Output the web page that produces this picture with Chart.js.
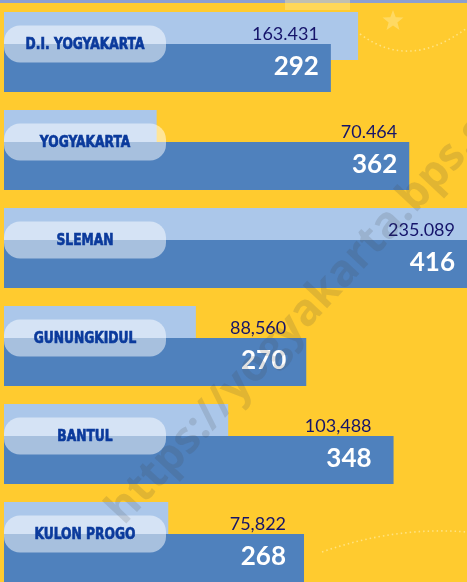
<!DOCTYPE html>
<html>
<head>
<meta charset="utf-8">
<script src="https://cdn.jsdelivr.net/npm/chart.js@4/dist/chart.umd.min.js"></script>
<style>
html,body{margin:0;padding:0;background:#FFCB2F;}
#wrap{width:467px;height:582px;position:relative;}
</style>
</head>
<body>
<div id="wrap"><canvas id="c"></canvas></div>
<script>
// ---- data ----
const categories = ['D.I. YOGYAKARTA', 'YOGYAKARTA', 'SLEMAN', 'GUNUNGKIDUL', 'BANTUL', 'KULON PROGO'];
const upperValues = [163.431, 70.464, 235.089, 88.560, 103.488, 75.822];
const upperLabels = ['163.431', '70.464', '235.089', '88,560', '103,488', '75,822'];
const lowerValues = [292, 362, 416, 270, 348, 268];
const lowerLabels = ['292', '362', '416', '270', '348', '268'];
const upperAxisMax = 213.7;
const lowerAxisMax = 413.6;

const BG = '#FFCB2F';
const LIGHT = '#ABC7EA';
const DARK = '#4F81BD';
const labelInset = [12, 12, 12, 20, 22, 18];

const decor = {
  id: 'decor',
  beforeDraw(chart) {
    const ctx = chart.ctx;
    ctx.save();
    ctx.fillStyle = BG;
    ctx.fillRect(0, 0, chart.width, chart.height);
    ctx.fillStyle = '#8C9FD0';
    ctx.fillRect(0, 0, chart.width, 3);
    // faint star
    ctx.fillStyle = 'rgba(255,230,140,0.55)';
    const cx = 393, cy = 21, R = 11, r = 4.6;
    ctx.beginPath();
    for (let k = 0; k < 10; k++) {
      const a = -Math.PI / 2 + k * Math.PI / 5;
      const rr = k % 2 ? r : R;
      ctx.lineTo(cx + rr * Math.cos(a), cy + rr * Math.sin(a));
    }
    ctx.closePath();
    ctx.fill();
    // dotted curves
    ctx.strokeStyle = 'rgba(255,232,150,0.8)';
    ctx.lineWidth = 1.6;
    ctx.setLineDash([1.5, 3]);
    ctx.beginPath();
    ctx.moveTo(360, 34);
    ctx.bezierCurveTo(395, 60, 430, 55, 467, 28);
    ctx.stroke();
    ctx.beginPath();
    ctx.moveTo(322, 552);
    ctx.bezierCurveTo(370, 535, 420, 528, 467, 532);
    ctx.stroke();
    ctx.setLineDash([]);
    // faint basket top
    ctx.fillStyle = 'rgba(255,230,140,0.45)';
    ctx.fillRect(285, 0, 65, 10);
    ctx.restore();
  },
  beforeDatasetDraw(chart, args) {
    // lower (dark) bars are drawn after the upper ones, see afterDatasetsDraw
    if (args.index === 1) return false;
  },
  afterDatasetsDraw(chart) {
    const ctx = chart.ctx;
    chart.getDatasetMeta(1).controller.draw();
    const low = chart.getDatasetMeta(1).data;
    const right = chart.chartArea.right;
    ctx.save();
    categories.forEach((name, i) => {
      const d = low[i];
      const top = d.y - d.height / 2;
      // pill
      const px = 4, pw = 162, ph = 37, pr = 16;
      const py = top - ph / 2;
      ctx.fillStyle = 'rgba(255,255,255,0.5)';
      ctx.beginPath();
      ctx.roundRect(px, py, pw, ph, pr);
      ctx.fill();
      // category name
      ctx.fillStyle = '#0B3A9C';
      ctx.strokeStyle = '#0B3A9C';
      ctx.lineWidth = 0.6;
      ctx.font = 'bold 15px "Liberation Sans Narrow", "DejaVu Sans Condensed", sans-serif';
      ctx.textAlign = 'center';
      ctx.textBaseline = 'middle';
      const w = ctx.measureText(name).width;
      ctx.fillText(name, px + pw / 2, top + 1, w * 0.91);
      ctx.strokeText(name, px + pw / 2, top + 1, w * 0.91);
      // value labels
      const xr = Math.min(d.x, right) - labelInset[i];
      ctx.textAlign = 'right';
      ctx.fillStyle = '#15146A';
      ctx.font = '18px Lato, "Open Sans", sans-serif';
      ctx.fillText(upperLabels[i], xr, top - 10);
      ctx.fillStyle = '#FFFFFF';
      ctx.font = 'bold 26px Lato, "Open Sans", sans-serif';
      ctx.fillText(lowerLabels[i], xr, d.y - 1);
    });
    ctx.restore();
  },
  afterDraw(chart) {
    const ctx = chart.ctx;
    ctx.save();
    ctx.translate(124, 526);
    ctx.rotate(-47 * Math.PI / 180);
    ctx.fillStyle = 'rgba(70,70,70,0.16)';
    ctx.font = 'bold 44px "Open Sans", sans-serif';
    ctx.textAlign = 'left';
    ctx.textBaseline = 'alphabetic';
    ctx.fillText('https://yogyakarta.bps.go.id', 0, 0);
    ctx.restore();
  }
};

new Chart(document.getElementById('c'), {
  type: 'bar',
  data: {
    labels: categories,
    datasets: [
      { label: 'upper', data: upperValues, backgroundColor: LIGHT, xAxisID: 'x', clip: false },
      { label: 'lower', data: lowerValues, backgroundColor: DARK, xAxisID: 'x2', clip: false }
    ]
  },
  options: {
    indexAxis: 'y',
    responsive: true,
    maintainAspectRatio: false,
    animation: false,
    categoryPercentage: 0.653,
    barPercentage: 1.5,
    layout: { padding: { top: 52, bottom: 40, left: 4, right: 0 } },
    scales: {
      y: { type: 'category', offset: false, display: false, grid: { offset: false } },
      x: { type: 'linear', min: 0, max: upperAxisMax, display: false },
      x2: { type: 'linear', min: 0, max: lowerAxisMax, display: false }
    },
    plugins: { legend: { display: false }, tooltip: { enabled: false } }
  },
  plugins: [decor]
});
</script>
</body>
</html>
